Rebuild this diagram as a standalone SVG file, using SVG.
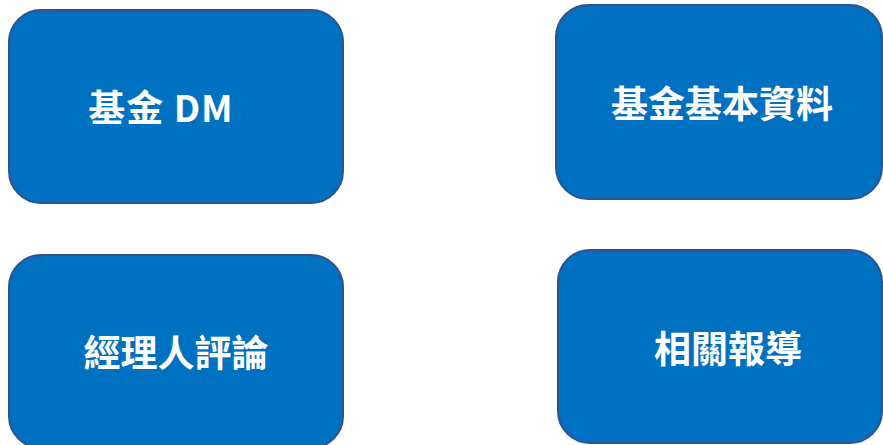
<svg xmlns="http://www.w3.org/2000/svg" width="883" height="445" viewBox="0 0 883 445">
<style>
.box{fill:#0070C0;stroke:#2F528F;stroke-width:2}
.lbl{fill:#FFFFFF;font-family:"Noto Sans CJK TC","Noto Sans",sans-serif;font-size:37px;font-weight:bold;text-anchor:middle;dominant-baseline:central}
</style>
<rect width="883" height="445" fill="#FFFFFF"/>
<g id="connectors"></g>
<g id="node-fund-dm">
<rect class="box" x="9" y="10" width="334" height="193" rx="32" ry="32"/>
<text class="lbl" x="161" y="106" letter-spacing="1">基金 DM</text>
</g>
<g id="node-fund-basic">
<rect class="box" x="556" y="5" width="326" height="194" rx="32" ry="32"/>
<text class="lbl" x="722" y="102">基金基本資料</text>
</g>
<g id="node-manager">
<rect class="box" x="9" y="255" width="334" height="193" rx="32" ry="32"/>
<text class="lbl" x="176" y="351">經理人評論</text>
</g>
<g id="node-news">
<rect class="box" x="558" y="250" width="324" height="193" rx="32" ry="32"/>
<text class="lbl" x="728" y="347">相關報導</text>
</g>
</svg>
